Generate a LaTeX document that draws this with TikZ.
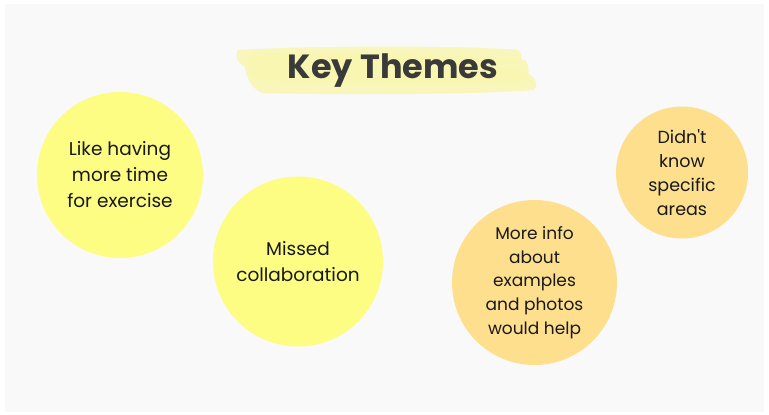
\documentclass[tikz,border=0pt]{standalone}
\usepackage{fontspec}
\newfontfamily\themefont{Poppins}
\definecolor{bg}{HTML}{F9F9F9}
\definecolor{yel}{HTML}{FDFD84}
\definecolor{org}{HTML}{FDDF8E}
\definecolor{brush}{HTML}{F8F6B0}
\definecolor{titlec}{HTML}{3A3A3A}
\tikzset{
  theme/.style={circle, inner sep=0pt, align=center, text=black!90, font=\themefont\fontsize{18.5}{26}\selectfont},
  yellowtheme/.style={theme, fill=yel},
  orangetheme/.style={theme, fill=org},
  brushstroke/.style={fill=brush, draw=none, opacity=0.85},
}
\begin{document}
\begin{tikzpicture}[x=1pt,y=-1pt]
\useasboundingbox (0,0) rectangle (769,415);
\fill[white] (0,0) rectangle (769,415);
\fill[bg] (5,4) rectangle (764,412);
% brush highlight
\fill[brushstroke] (238,50) .. controls (300,46) and (460,45) .. (518,50)
  .. controls (524,56) and (522,62) .. (515,64)
  .. controls (470,66) and (320,68) .. (250,68)
  .. controls (238,66) and (234,56) .. (238,50) -- cycle;
\fill[brushstroke] (245,62) .. controls (330,60) and (460,62) .. (520,70)
  .. controls (534,74) and (540,84) .. (534,90)
  .. controls (470,95) and (330,95) .. (262,93)
  .. controls (250,88) and (244,72) .. (245,62) -- cycle;
\fill[brushstroke] (250,54) .. controls (330,52) and (470,55) .. (525,60)
  .. controls (530,66) and (530,78) .. (524,82)
  .. controls (450,84) and (320,84) .. (256,80)
  .. controls (248,74) and (246,60) .. (250,54) -- cycle;
\node[font=\themefont\fontsize{33.5}{38}\bfseries\selectfont, text=titlec] (title) at (393,71) {Key Themes};
% theme circles
\node[yellowtheme, minimum size=166pt] (exercise) at (120,175) {Like having\\more time\\for exercise};
\node[yellowtheme, minimum size=170pt] (collab) at (298,261.5) {Missed\\collaboration};
\node[orangetheme, minimum size=165pt, font=\themefont\fontsize{17}{23.7}\selectfont] (info) at (534.5,282.5) {More info\\about\\examples\\and photos\\would help};
\node[orangetheme, minimum size=132pt, font=\themefont\fontsize{17.5}{24}\selectfont] (areas) at (682,172.5) {Didn't\\know\\specific\\areas};
\end{tikzpicture}
\end{document}
